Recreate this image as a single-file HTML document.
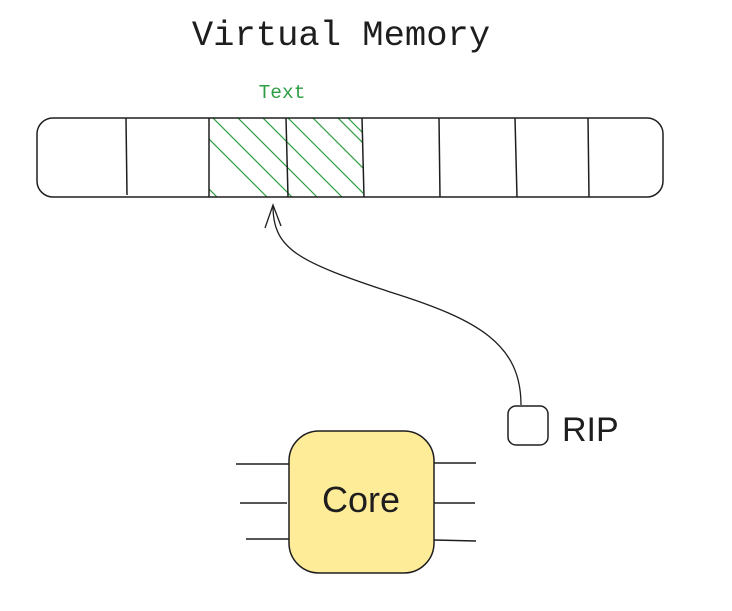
<!DOCTYPE html>
<html><head><style>html,body{margin:0;padding:0;background:#fff;}svg{display:block}</style></head>
<body>
<svg width="732" height="611" viewBox="0 0 732 611" xmlns="http://www.w3.org/2000/svg">
<defs>
<clipPath id="hc"><rect x="209" y="118" width="154" height="79"/></clipPath>
</defs>
<text x="341" y="45" text-anchor="middle" font-family="Liberation Mono, monospace" font-size="35.5" fill="#1e1e1e">Virtual Memory</text>
<text x="282" y="98" text-anchor="middle" font-family="Liberation Mono, monospace" font-size="19.5" fill="#2f9e44">Text</text>
<g clip-path="url(#hc)" stroke="#2f9e44" stroke-width="1.2">
<path d="M170 100 L280 210 M195 100 L305 210 M220 100 L330 210 M245 100 L355 210 M270 100 L380 210 M295 100 L405 210 M320 100 L430 210 M345 100 L455 210 M140 120 L230 210 M120 130 L210 220 M330 110 L380 160 M340 110 L380 150"/>
</g>
<rect x="37" y="118" width="626" height="79" rx="16" fill="none" stroke="#1e1e1e" stroke-width="1.5"/>
<g stroke="#1e1e1e" stroke-width="1.5">
<line x1="126" y1="118" x2="127" y2="195"/>
<line x1="209" y1="118" x2="209" y2="197"/>
<line x1="286" y1="118" x2="288" y2="197"/>
<line x1="362" y1="118" x2="364" y2="197"/>
<line x1="439" y1="118" x2="440" y2="197"/>
<line x1="515" y1="118" x2="517" y2="197"/>
<line x1="588" y1="118" x2="589" y2="197"/>
</g>
<path d="M521 405 C 521 345, 480 320, 390 292 C 300 262, 273 250, 273 206" fill="none" stroke="#1e1e1e" stroke-width="1.3"/>
<path d="M265 228 L273 205 L281 226" fill="none" stroke="#1e1e1e" stroke-width="1.3"/>
<rect x="508" y="406" width="40" height="39" rx="8" fill="none" stroke="#1e1e1e" stroke-width="1.5"/>
<text x="562" y="441" font-family="Liberation Sans, sans-serif" font-size="34" fill="#1e1e1e">RIP</text>
<g stroke="#1e1e1e" stroke-width="1.5">
<line x1="236" y1="464" x2="289" y2="464"/>
<line x1="240" y1="503" x2="287" y2="503"/>
<line x1="246" y1="539" x2="289" y2="539"/>
<line x1="434" y1="463" x2="476" y2="463"/>
<line x1="434" y1="503" x2="475" y2="503"/>
<line x1="434" y1="540" x2="476" y2="541"/>
</g>
<rect x="289" y="431" width="145" height="142" rx="30" fill="#ffec99" stroke="#1e1e1e" stroke-width="1.5"/>
<text x="361" y="512" text-anchor="middle" font-family="Liberation Sans, sans-serif" font-size="36" fill="#1e1e1e">Core</text>
</svg>
</body></html>
